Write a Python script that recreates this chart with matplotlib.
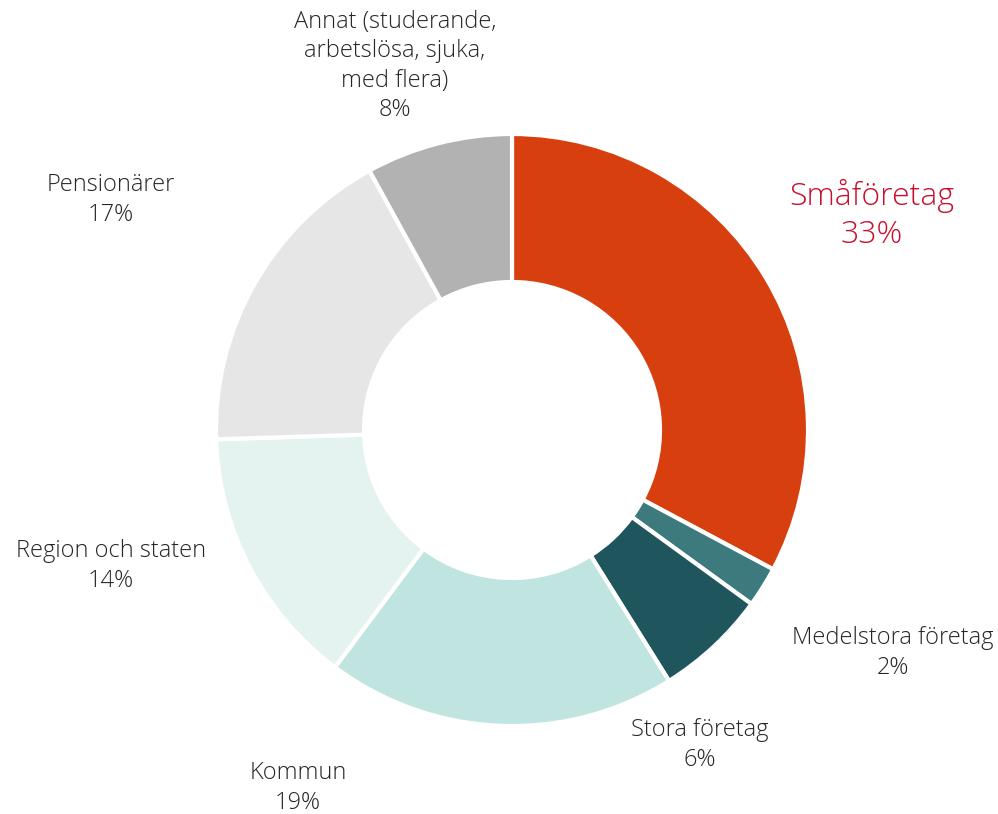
import matplotlib.pyplot as plt
from matplotlib import font_manager

# Data (clockwise from 12 o'clock)
categories = ["Småföretag", "Medelstora företag", "Stora företag", "Kommun",
              "Region och staten", "Pensionärer",
              "Annat (studerande,\narbetslösa, sjuka,\nmed flera)"]
shares = [32.8, 2.2, 6.1, 19.1, 14.3, 17.5, 8.0]
pct_labels = ["33%", "2%", "6%", "19%", "14%", "17%", "8%"]
colors = ["#D73F0F", "#3D7A7E", "#1F565E", "#C0E4DF", "#E4F3EF", "#E6E6E6", "#B1B2B1"]

names = {f.name for f in font_manager.fontManager.ttflist}
fam = "Open Sans" if "Open Sans" in names else "DejaVu Sans"

fig = plt.figure(figsize=(9.98, 8.14), dpi=100)
ax = fig.add_axes([0, 0, 1, 1])

cx, cy, r = 512, 814 - 430, 296
ax.pie(shares, colors=colors, startangle=90, counterclock=False,
       center=(cx, cy), radius=r, frame=True,
       wedgeprops=dict(width=r * 0.5, edgecolor="white", linewidth=3))
ax.set_xlim(0, 998)
ax.set_ylim(0, 814)
ax.set_aspect("equal")
ax.axis("off")

# label positions in pixels (x, y from top)
label_pos = [(872, 215), (893, 653), (700, 745), (298, 788),
             (111, 566), (111, 200), (395, 66)]
for i, (name, pct) in enumerate(zip(categories, pct_labels)):
    x, y = label_pos[i]
    if i == 0:
        ax.text(x, 814 - y, name + "\n" + pct, ha="center", va="center",
                fontsize=23, color="#C8102E", family=fam, fontweight="light",
                linespacing=1.25)
    else:
        ax.text(x, 814 - y, name + "\n" + pct, ha="center", va="center",
                fontsize=17, color="#262626", family=fam, fontweight="light",
                linespacing=1.3)

fig.savefig("out.png", dpi=100)
